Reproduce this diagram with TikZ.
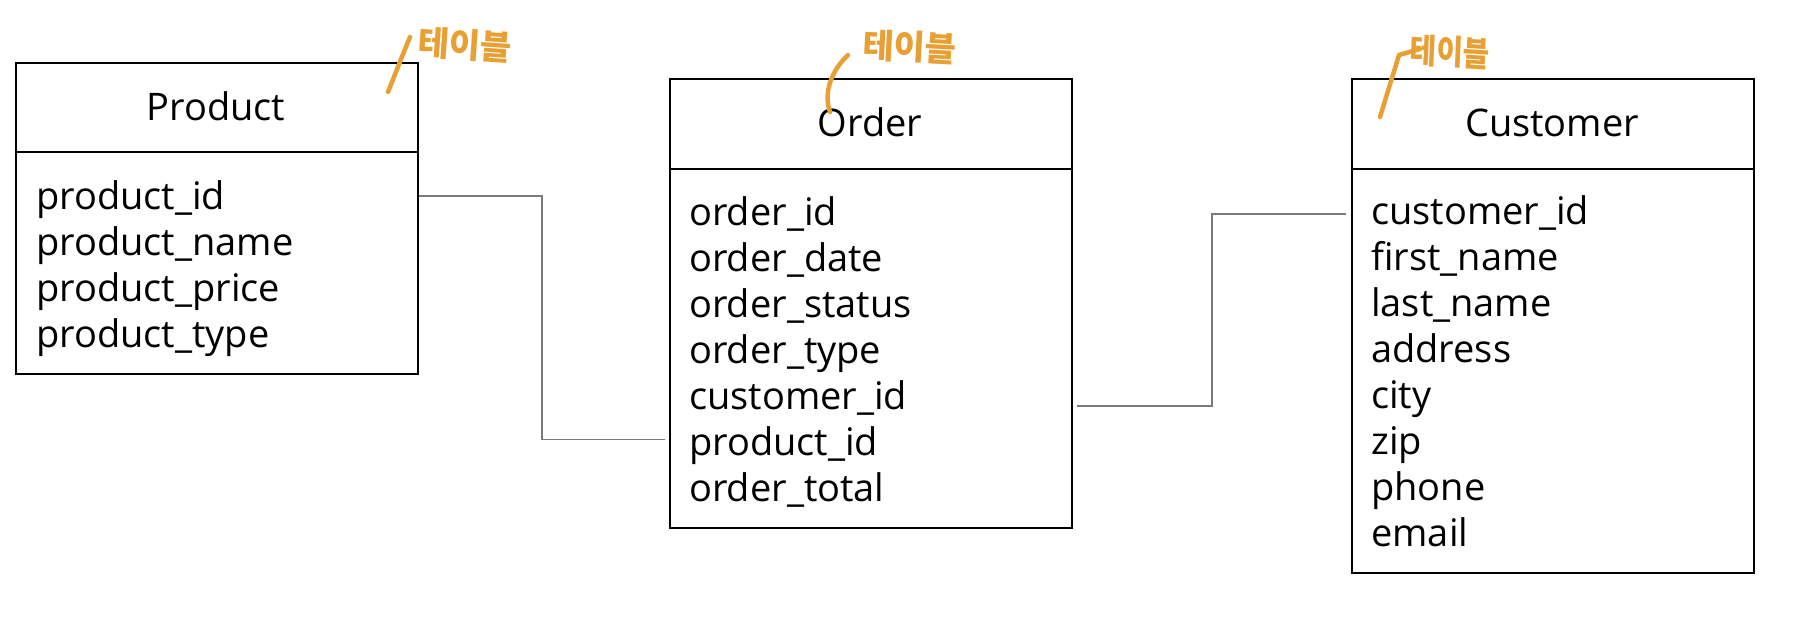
\documentclass[tikz,border=0pt]{standalone}
\usepackage{fontspec}
\setmainfont{Open Sans}
\newfontfamily\krfont{Noto Sans CJK KR}
\definecolor{hand}{HTML}{E8A034}
\definecolor{connc}{HTML}{7A7A7A}
\tikzset{
  hdr/.style={draw=black, line width=2pt, anchor=north west, inner sep=0pt},
  field/.style={anchor=base west, inner sep=0pt, font=\fontsize{38}{46}\selectfont},
  title/.style={anchor=base, inner sep=0pt, font=\fontsize{38}{46}\selectfont},
  conn/.style={draw=connc, line width=1.6pt},
  ink/.style={draw=hand, line width=4.5pt, line cap=round, line join=round},
  note/.style={text=hand, font=\krfont\bfseries\fontsize{34}{34}\selectfont, inner sep=0pt}
}
\begin{document}
\begin{tikzpicture}[x=1pt,y=-1pt]
\useasboundingbox (0,0) rectangle (1802,616);
% Product
\node[hdr, minimum width=402pt, minimum height=89pt] (phead) at (15,62) {};
\node[hdr, minimum width=402pt, minimum height=222pt] (pbody) at (15,151) {};
\node[title] (ptitle) at (216,120) {Product};
\node[field] (p1) at (36,209) {product\_id};
\node[field] (p2) at (36,255) {product\_name};
\node[field] (p3) at (36,301) {product\_price};
\node[field] (p4) at (36,347) {product\_type};
% Order
\node[hdr, minimum width=402pt, minimum height=90pt] (ohead) at (669,78) {};
\node[hdr, minimum width=402pt, minimum height=359pt] (obody) at (669,168) {};
\node[title] (otitle) at (870,136) {Order};
\node[field] (o1) at (689,225) {order\_id};
\node[field] (o2) at (689,271) {order\_date};
\node[field] (o3) at (689,317) {order\_status};
\node[field] (o4) at (689,363) {order\_type};
\node[field] (o5) at (689,409) {customer\_id};
\node[field] (o6) at (689,455) {product\_id};
\node[field] (o7) at (689,501) {order\_total};
% Customer
\node[hdr, minimum width=402pt, minimum height=90pt] (chead) at (1351,78) {};
\node[hdr, minimum width=402pt, minimum height=404pt] (cbody) at (1351,168) {};
\node[title] (ctitle) at (1552,136) {Customer};
\node[field] (c1) at (1371,224) {customer\_id};
\node[field] (c2) at (1371,270) {first\_name};
\node[field] (c3) at (1371,316) {last\_name};
\node[field] (c4) at (1371,362) {address};
\node[field] (c5) at (1371,408) {city};
\node[field] (c6) at (1371,454) {zip};
\node[field] (c7) at (1371,500) {phone};
\node[field] (c8) at (1371,546) {email};
% connectors
\draw[conn] ([yshift=10.5pt]pbody.east |- p1.mid) -- ++(123,0) |- ([yshift=13pt,xshift=-4pt]obody.west |- o6.mid);
\draw[conn] ([yshift=0.5pt,xshift=4pt]obody.east |- o5.mid) -- ++(135,0) |- ([yshift=7.6pt,xshift=-5pt]cbody.west |- c1.mid);
% handwritten notes
\draw[ink] (388,92) .. controls (396,72) and (403,54) .. (410,37);
\node[note, rotate=-4] (n1) at (465,45) {테이블};
\draw[ink] (848,55) .. controls (832,70) and (823,92) .. (830,112);
\node[note, rotate=-3] (n2) at (910,47) {테이블};
\draw[ink] (1380,117) -- (1399,55) -- (1420,49);
\node[note, xscale=0.85, rotate=-3] (n3) at (1450,52) {테이블};
\end{tikzpicture}
\end{document}
